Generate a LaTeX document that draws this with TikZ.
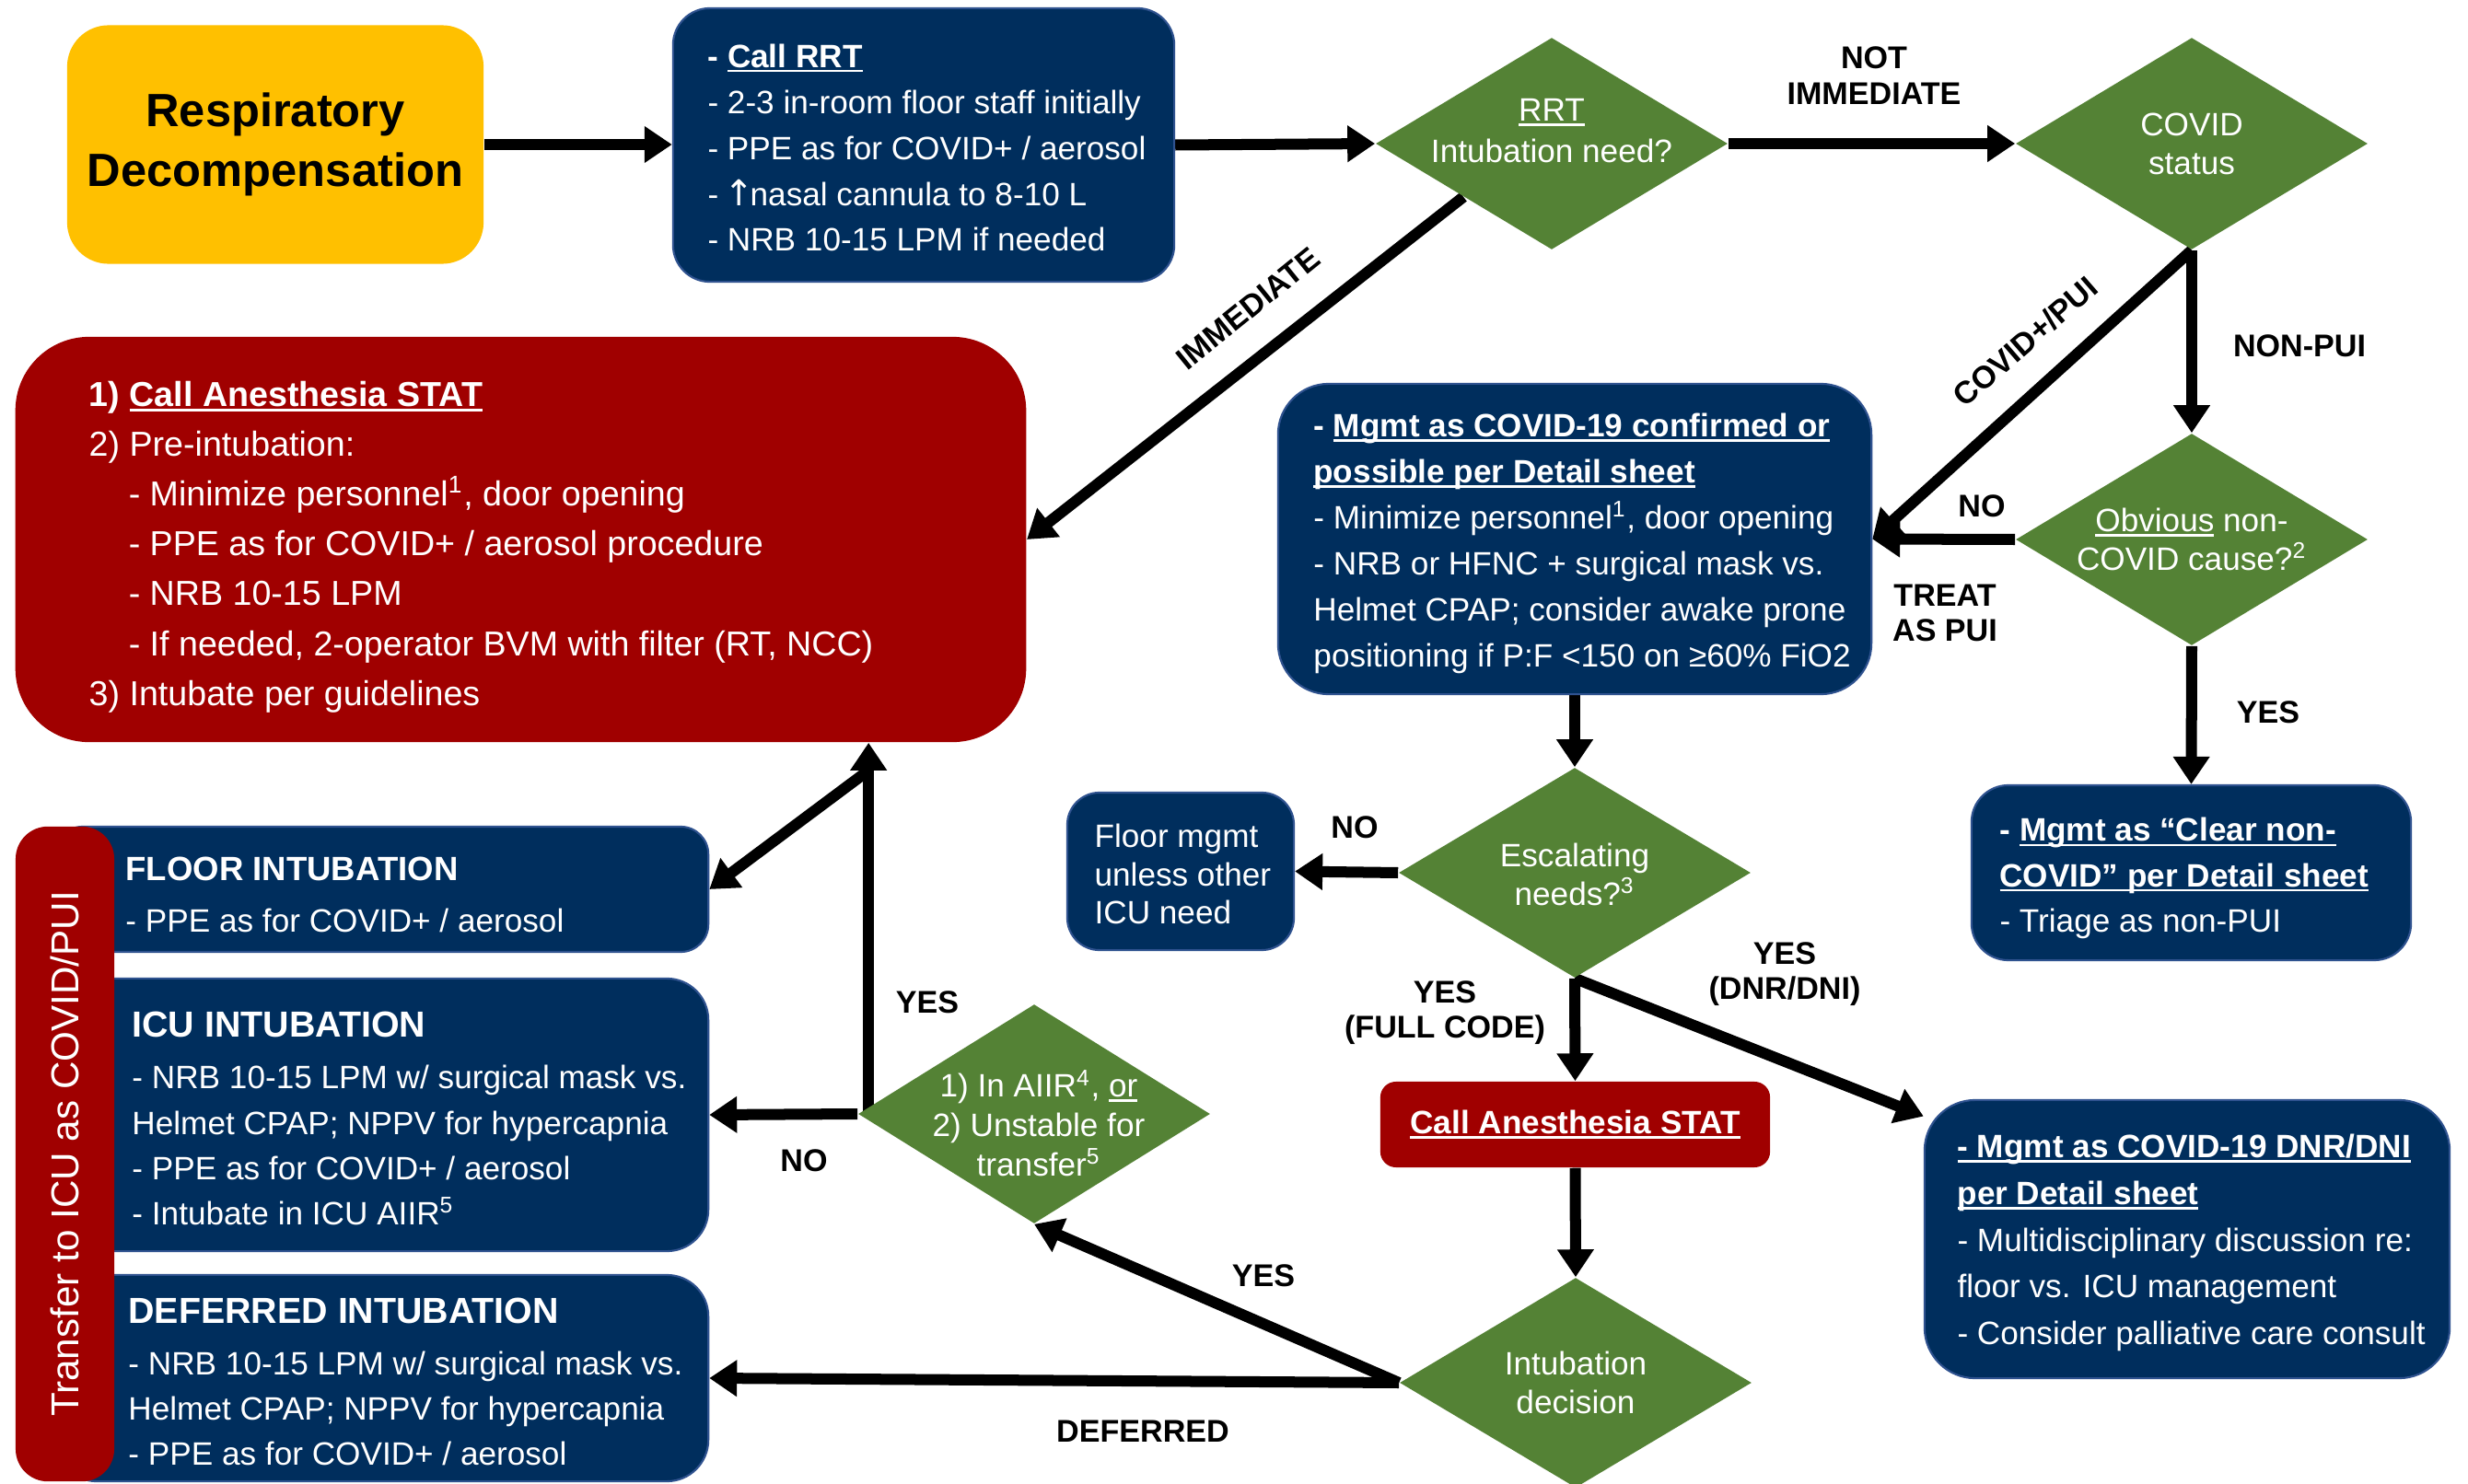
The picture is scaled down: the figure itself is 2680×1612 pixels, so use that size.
\documentclass[tikz,border=0pt]{standalone}
\usepackage{fontspec}
\setmainfont{Liberation Sans}
\newfontfamily\symfont{DejaVu Sans}
\usetikzlibrary{arrows.meta,shapes.geometric,calc}
\definecolor{navy}{RGB}{0,46,93}
\definecolor{navyline}{RGB}{47,82,143}
\definecolor{dgreen}{RGB}{84,130,53}
\definecolor{dred}{RGB}{160,0,0}
\definecolor{gold}{RGB}{255,192,0}
\newcommand{\ulx}[1]{\setbox0=\hbox{#1}\rlap{\rule[-0.15em]{\wd0}{0.075em}}\box0\relax}
\pgfdeclarelayer{bg}
\pgfsetlayers{bg,main}
\begin{document}
\begin{tikzpicture}[x=0.01cm,y=-0.01cm,
  navybox/.style={draw=navyline, line width=0.6pt, fill=navy, rectangle, inner sep=0pt},
  redbox/.style={fill=dred, rectangle, inner sep=0pt},
  btext/.style={text=white, align=left, inner sep=0pt, font=\fontsize{10}{14.2}\selectfont},
  dia/.style={diamond, fill=dgreen, inner sep=0pt, minimum width=3.82cm, minimum height=2.30cm},
  dtext/.style={text=white, align=center, inner sep=0pt, font=\fontsize{10}{12}\selectfont},
  arr/.style={line width=0.12cm, -{Triangle[width=0.38cm,length=0.3cm]}},
  lbl/.style={font=\fontsize{9.7}{11}\selectfont\bfseries, align=center, inner sep=0pt}]
\useasboundingbox (0,0) rectangle (2680,1612);

% start
\node[fill=gold, rounded corners=0.45cm, minimum width=4.52cm, minimum height=2.59cm, inner sep=0pt,
  font=\fontsize{14.4}{18.5}\selectfont\bfseries, align=center] (resp) at (299,157) {Respiratory\\Decompensation};

% RRT box
\node[navybox, rounded corners=0.4cm, minimum width=5.44cm, minimum height=2.97cm] (rrt) at (1003,157.5) {};
\node[btext, anchor=west] (rrt-t) at ([xshift=0.38cm,yshift=-0.03cm]rrt.west) {\textbf{- \ulx{Call RRT}}\\
- 2-3 in-room floor staff initially\\
- PPE as for COVID+ / aerosol\\
- {\symfont\fontsize{11}{14.2}\selectfont\kern-0.08em↑\kern-0.12em}nasal cannula to 8-10 L\\
- NRB 10-15 LPM if needed};

% diamonds
\node[dia] (d1) at (1685,156) {};
\node[dtext, font=\fontsize{10}{12.6}\selectfont] (d1-t) at ([yshift=0.14cm]d1) {\ulx{RRT}\\Intubation need?};
\node[dia] (d2) at (2380,156) {};
\node[dtext] (d2-t) at (d2) {COVID\\status};
\node[dia] (d3) at (2380,586) {};
\node[dtext] (d3-t) at (d3) {\ulx{Obvious} non-\\COVID cause?\textsuperscript{2}};
\node[dia, minimum height=2.28cm] (esc) at (1710,948) {};
\node[dtext] (esc-t) at ([yshift=-0.02cm]esc) {Escalating\\needs?\textsuperscript{3}};
\node[dia, minimum height=2.28cm] (dec) at (1711,1502) {};
\node[dtext] (dec-t) at (dec) {Intubation\\decision};
\node[dia, minimum height=2.38cm] (aiir) at (1123,1210) {};
\node[dtext, font=\fontsize{10}{12.2}\selectfont] (aiir-t) at ([xshift=0.05cm,yshift=-0.1cm]aiir) {1) In AIIR\textsuperscript{4}, \ulx{or}\\2) Unstable for\\transfer\textsuperscript{5}};

% big red box
\node[redbox, rounded corners=0.8cm, minimum width=10.97cm, minimum height=4.40cm] (stat1) at (565.5,586) {};
\node[btext, font=\fontsize{10.7}{15.4}\selectfont, anchor=west] (stat1-t) at ([xshift=0.80cm,yshift=-0.08cm]stat1.west) {\textbf{1) \ulx{Call Anesthesia STAT}}\\
2) Pre-intubation:\\
\hspace*{0.43cm}- Minimize personnel\textsuperscript{1}, door opening\\
\hspace*{0.43cm}- PPE as for COVID+ / aerosol procedure\\
\hspace*{0.43cm}- NRB 10-15 LPM\\
\hspace*{0.43cm}- If needed, 2-operator BVM with filter (RT, NCC)\\
3) Intubate per guidelines};

% covid mgmt
\node[navybox, rounded corners=0.55cm, minimum width=6.44cm, minimum height=3.37cm] (covid) at (1710,585.5) {};
\node[btext, anchor=west] (covid-t) at ([xshift=0.39cm,yshift=-0.05cm]covid.west) {\textbf{- \ulx{Mgmt as COVID-19 confirmed or}}\\
\textbf{\ulx{possible per Detail sheet}}\\
- Minimize personnel\textsuperscript{1}, door opening\\
- NRB or HFNC + surgical mask vs.\\
Helmet CPAP; consider awake prone\\
positioning if P:F <150 on ≥60\% FiO2};

% floor mgmt
\node[navybox, rounded corners=0.35cm, minimum width=2.46cm, minimum height=1.71cm] (fmgmt) at (1282,946.5) {};
\node[btext, font=\fontsize{10}{11.7}\selectfont, anchor=west] (fmgmt-t) at ([xshift=0.30cm,yshift=-0.03cm]fmgmt.west) {Floor mgmt\\unless other\\ICU need};

% clear non-covid
\node[navybox, rounded corners=0.4cm, minimum width=4.77cm, minimum height=1.90cm] (clear) at (2379.5,948) {};
\node[btext, font=\fontsize{10}{14}\selectfont, anchor=west] (clear-t) at ([xshift=0.31cm,yshift=-0.06cm]clear.west) {\textbf{- \ulx{Mgmt as “Clear non-}}\\
\textbf{\ulx{COVID” per Detail sheet}}\\
- Triage as non-PUI};

% DNR
\node[navybox, rounded corners=0.55cm, minimum width=5.70cm, minimum height=3.02cm] (dnr) at (2375,1346) {};
\node[btext, font=\fontsize{10}{14.4}\selectfont, anchor=west] (dnr-t) at ([xshift=0.36cm,yshift=-0.04cm]dnr.west) {\textbf{\ulx{- Mgmt as COVID-19 DNR/DNI}}\\
\textbf{\ulx{per Detail sheet}}\\
- Multidisciplinary discussion re:\\
floor vs. ICU management\\
- Consider palliative care consult};

% call anesthesia small
\node[redbox, rounded corners=0.17cm, minimum width=4.23cm, minimum height=0.93cm, text=white,
  font=\fontsize{10}{12}\selectfont\bfseries] (stat2) at (1710.5,1221.5) {\ulx{Call Anesthesia STAT}};

% left boxes
\node[navybox, rounded corners=0.3cm, minimum width=7.09cm, minimum height=1.36cm] (flint) at (414.5,966) {};
\node[btext, anchor=west] (flint-t) at ([xshift=0.77cm,yshift=-0.06cm]flint.west) {{\fontsize{10.4}{14}\selectfont\bfseries FLOOR INTUBATION}\\[1.6pt]
- PPE as for COVID+ / aerosol};
\node[navybox, rounded corners=0.45cm, minimum width=7.09cm, minimum height=2.96cm] (icu) at (414.5,1211) {};
\node[btext, font=\fontsize{10}{14}\selectfont, anchor=west] (icu-t) at ([xshift=0.84cm,yshift=-0.04cm]icu.west) {{\fontsize{11.2}{14}\selectfont\bfseries ICU INTUBATION}\\[2pt]
- NRB 10-15 LPM w/ surgical mask vs.\\
Helmet CPAP; NPPV for hypercapnia\\
- PPE as for COVID+ / aerosol\\
- Intubate in ICU AIIR\textsuperscript{5}};
\node[navybox, rounded corners=0.45cm, minimum width=7.09cm, minimum height=2.24cm] (defr) at (414.5,1497) {};
\node[btext, font=\fontsize{10}{14}\selectfont, anchor=west] (defr-t) at ([xshift=0.80cm,yshift=-0.04cm]defr.west) {{\fontsize{11.2}{14}\selectfont\bfseries DEFERRED INTUBATION}\\[2pt]
- NRB 10-15 LPM w/ surgical mask vs.\\
Helmet CPAP; NPPV for hypercapnia\\
- PPE as for COVID+ / aerosol};
\node[redbox, rounded corners=0.35cm, minimum width=1.07cm, minimum height=7.11cm] (bar) at (70.5,1253.5) {};
\node[text=white, rotate=90, inner sep=0pt, font=\fontsize{12}{14}\selectfont] (bar-t) at (bar) {Transfer to ICU as COVID/PUI};

% connectors
\begin{pgfonlayer}{bg}
\fill[white] (0,0) rectangle (2680,1612);
\draw[arr] (resp.east) -- (resp.east -| rrt.west);
\draw[arr] (rrt.east) -- (d1.west);
\draw[arr] (d1.east) -- (d2.west);
\draw[arr] (d1.south west) -- (stat1.east);
\draw[arr] (d2.south) -- (covid.east);
\draw[arr] (d2.south) -- (d3.north);
\draw[arr] (d3.west) -- (covid.east);
\draw[arr] (d3.south) -- (clear.north);
\draw[arr] (covid.south) -- (esc.north);
\draw[arr] (esc.west) -- (fmgmt.east);
\draw[arr] (esc.south) -- (stat2.north);
\draw[arr] (esc.south) -- (dnr.155);
\draw[arr] (stat2.south) -- (dec.north);
\draw[arr] (dec.west) -- (aiir.south);
\draw[arr] (dec.west) -- (defr.east);
\draw[arr] (aiir.west) -- (icu.east);
\coordinate (j0) at ([xshift=0.12cm]aiir.west);
\coordinate (j1) at (j0 |- stat1.south);
\draw[arr] (j0) -- (j1);
\draw[arr] ([yshift=-0.3cm]j1) -- (flint.east);
\end{pgfonlayer}

% labels
\node[lbl] (l-notimm) at (2035,82) {NOT\\IMMEDIATE};
\node[lbl, rotate=39] (l-imm) at (1355,335) {IMMEDIATE};
\node[lbl, rotate=41] (l-cov) at (2199,371) {COVID+/PUI};
\node[lbl] (l-nonpui) at (2497,376) {NON-PUI};
\node[lbl] (l-no1) at (2152,550) {NO};
\node[lbl] (l-treat) at (2112,666) {TREAT\\AS PUI};
\node[lbl] (l-yes1) at (2463,774) {YES};
\node[lbl] (l-no2) at (1471,899) {NO};
\node[lbl] (l-fc) at (1569,1100) {YES\\(FULL CODE)};
\node[lbl] (l-dnr) at (1938,1058) {YES\\(DNR/DNI)};
\node[lbl] (l-yes3) at (1007,1089) {YES};
\node[lbl] (l-no3) at (873,1261) {NO};
\node[lbl] (l-yes4) at (1372,1386) {YES};
\node[lbl] (l-def) at (1241,1555) {DEFERRED};
\end{tikzpicture}
\end{document}
